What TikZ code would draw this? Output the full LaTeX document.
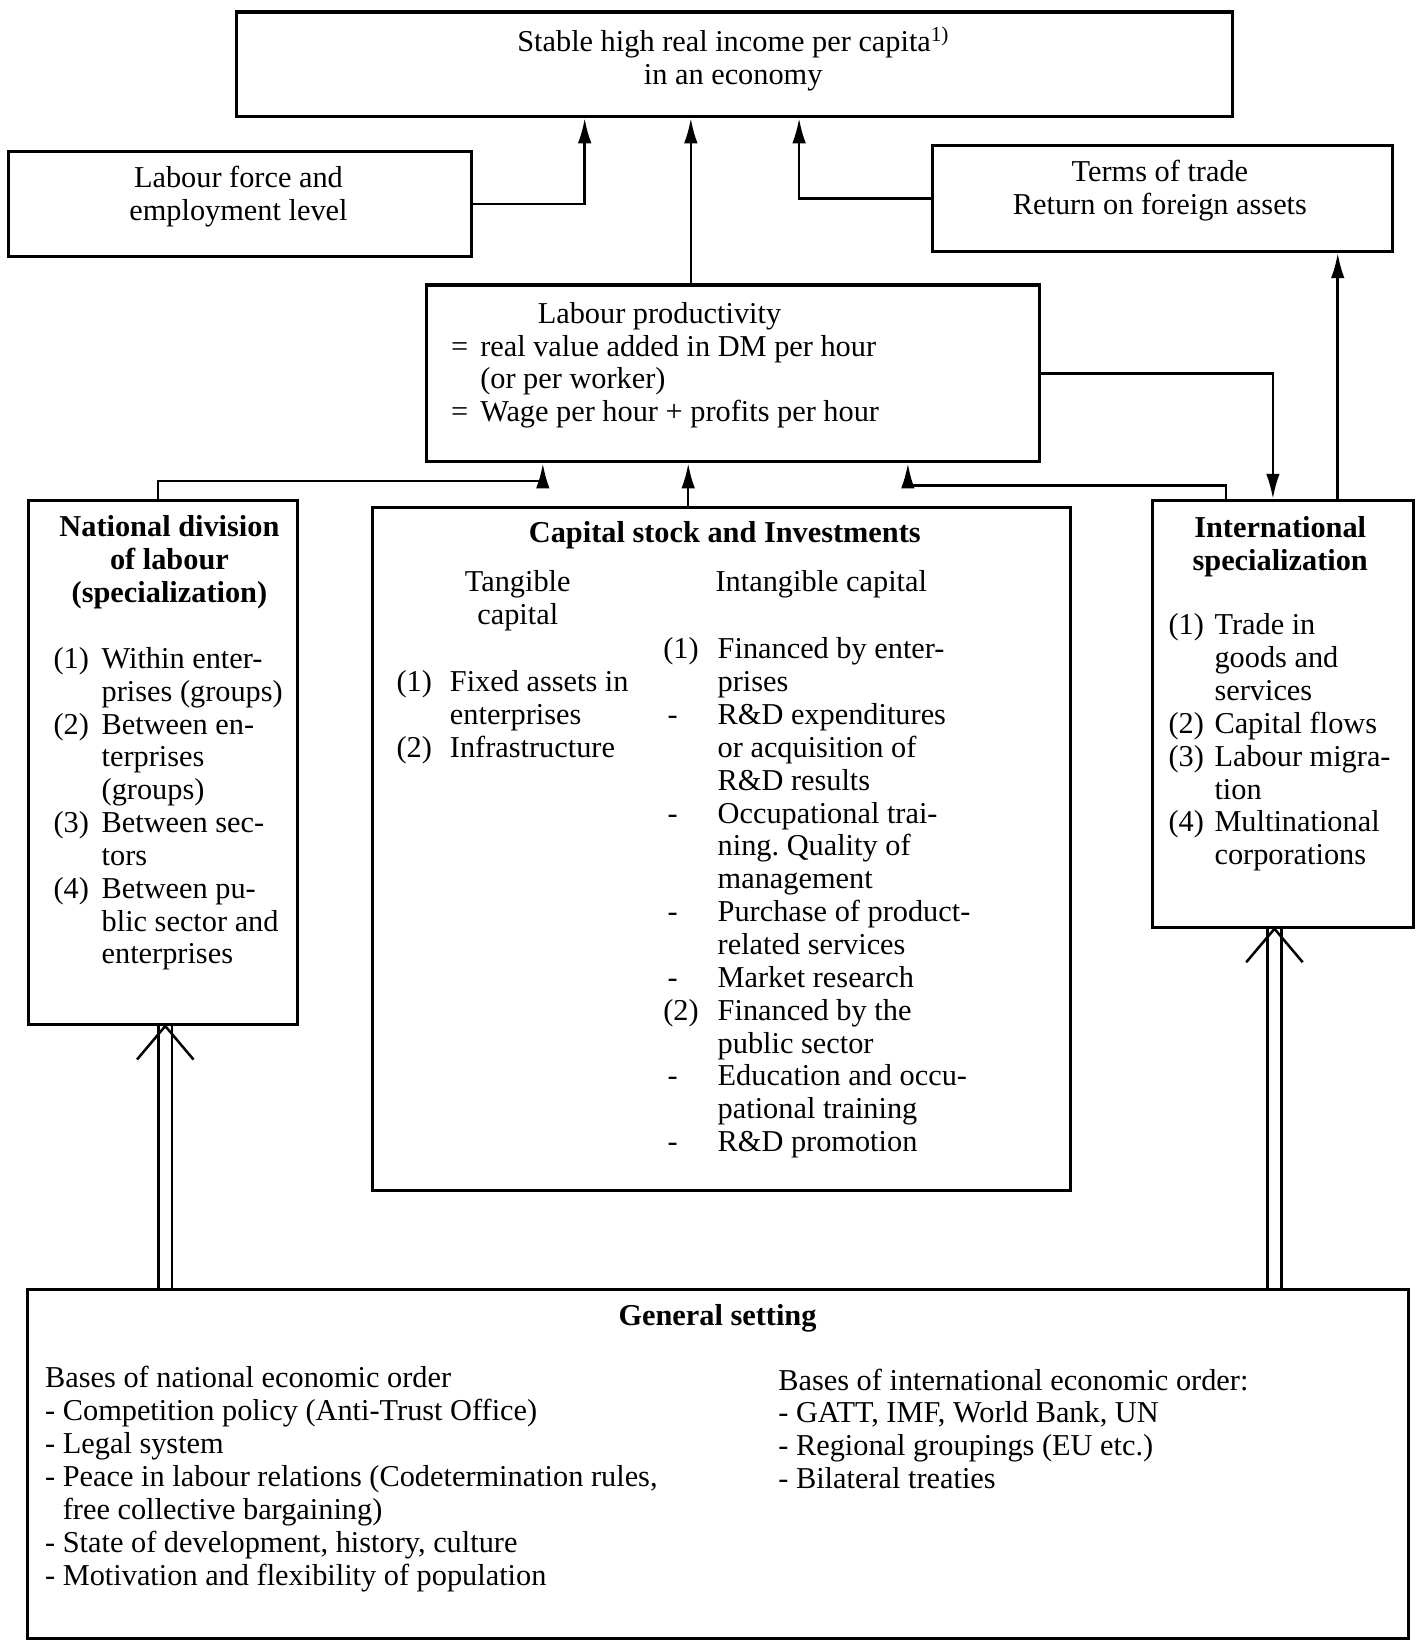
\documentclass[tikz,border=0pt]{standalone}
\usepackage{fontspec}
\setmainfont{Liberation Serif}
\usetikzlibrary{arrows.meta,calc}
\frenchspacing

\begin{document}
\begin{tikzpicture}[x=1pt,y=-1pt,>={Latex[length=24pt,width=13pt]},line width=2.4pt,
 font=\fontsize{29}{31.4}\selectfont,
 box/.style={draw,line width=3pt,inner sep=0pt,anchor=north west},
 txt/.style={inner sep=0pt,anchor=base west},
 mid/.style={inner sep=0pt,anchor=base},
 head/.style={inner sep=0pt,anchor=base,font=\fontsize{29}{31.4}\selectfont\bfseries},
 flow/.style={->},
 base flow/.style={double,double distance=11pt,line width=2.2pt}]
\useasboundingbox (0,0) rectangle (1358,1568);
%income
  \node[box,minimum width=952pt,minimum height=100pt] (income) at (225,10) {};
  \node[mid] at (701,49) {\begin{tabular}[t]{@{}c@{}}Stable high real income per capita\textsuperscript{1)}\\in an economy\end{tabular}};
%labour force
  \node[box,minimum width=442pt,minimum height=101pt] (labour) at (7,143) {};
  \node[mid] at (228,179) {\begin{tabular}[t]{@{}c@{}}Labour force and\\employment level\end{tabular}};
%terms of trade
  \node[box,minimum width=440pt,minimum height=101pt] (terms) at (890,138) {};
  \node[mid] at (1109,174) {\begin{tabular}[t]{@{}c@{}}Terms of trade\\Return on foreign assets\end{tabular}};
%productivity
  \node[box,minimum width=586pt,minimum height=169pt] (prod) at (406,271) {};
  \node[txt] at (430,309) {\begin{tabular}[t]{@{}p{28pt}@{}l@{}}
    &\hspace{55pt}Labour productivity\\
    =&real value added in DM per hour\\
    &(or per worker)\\
    =&Wage per hour + profits per hour\end{tabular}};
%national division
  \node[box,minimum width=257pt,minimum height=501pt] (nat) at (26,477) {};
  \node[head] at (162,513) {\begin{tabular}[t]{@{}c@{}}National division\\of labour\\(specialization)\end{tabular}};
  \node[txt] at (50,639) {\begin{tabular}[t]{@{}p{46pt}@{}l@{}}
    (1)&Within enter-\\&prises (groups)\\
    (2)&Between en-\\&terprises\\&(groups)\\
    (3)&Between sec-\\&tors\\
    (4)&Between pu-\\&blic sector and\\&enterprises\end{tabular}};
%capital
  \node[box,minimum width=667pt,minimum height=653pt] (cap) at (355,484) {};
  \node[head] at (693,519) {Capital stock and Investments};
  \node[mid] at (495,566) {\begin{tabular}[t]{@{}c@{}}Tangible\\capital\end{tabular}};
  \node[txt] at (683,566) {Intangible capital};
  \node[txt] at (378,661) {\begin{tabular}[t]{@{}p{51pt}@{}l@{}}
    (1)&Fixed assets in\\&enterprises\\
    (2)&Infrastructure\end{tabular}};
  \node[txt] at (633,630) {\begin{tabular}[t]{@{}p{52pt}@{}l@{}}
    (1)&Financed by enter-\\&prises\\
    \hspace{4pt}-&R\&D expenditures\\&or acquisition of\\&R\&D results\\
    \hspace{4pt}-&Occupational trai-\\&ning. Quality of\\&management\\
    \hspace{4pt}-&Purchase of product-\\&related services\\
    \hspace{4pt}-&Market research\\
    (2)&Financed by the\\&public sector\\
    \hspace{4pt}-&Education and occu-\\&pational training\\
    \hspace{4pt}-&R\&D promotion\end{tabular}};
%international
  \node[box,minimum width=250pt,minimum height=408pt] (intl) at (1100,477) {};
  \node[head] at (1224,514) {\begin{tabular}[t]{@{}c@{}}International\\specialization\end{tabular}};
  \node[txt] at (1116,607) {\begin{tabular}[t]{@{}p{44pt}@{}l@{}}
    (1)&Trade in\\&goods and\\&services\\
    (2)&Capital flows\\
    (3)&Labour migra-\\&tion\\
    (4)&Multinational\\&corporations\end{tabular}};
%general setting
  \node[box,minimum width=1320pt,minimum height=334pt] (setting) at (25,1231) {};
  \node[head] at (686,1267) {General setting};
  \node[txt] at (42,1327) {\begin{tabular}[t]{@{}l@{}}
    Bases of national economic order\\
    - Competition policy (Anti-Trust Office)\\
    - Legal system\\
    - Peace in labour relations (Codetermination rules,\\
    \phantom{- }free collective bargaining)\\
    - State of development, history, culture\\
    - Motivation and flexibility of population\end{tabular}};
  \node[txt] at (743,1329) {\begin{tabular}[t]{@{}l@{}}
    Bases of international economic order:\\
    - GATT, IMF, World Bank, UN\\
    - Regional groupings (EU etc.)\\
    - Bilateral treaties\end{tabular}};
%paths
  \coordinate (prodout) at ([xshift=-40pt]prod.north);
  \coordinate (capout) at ([xshift=-32pt]cap.north);
  \coordinate (intlup) at ([xshift=179pt]intl.north west);
  \coordinate (natin) at ([xshift=2pt]nat.south);
  \coordinate (intlin) at ([xshift=-8pt]intl.south);
  \draw[flow] (labour.east) -| ([xshift=334pt]income.south west);
  \draw[flow] (terms.west) -| ([xshift=539pt]income.south west);
  \draw[flow] (prodout) -- (prodout |- income.south);
  \draw[flow] (prod.east) -| ([xshift=117pt]intl.north west);
  \draw[flow] (intlup) -- (intlup |- terms.south);
  \draw[flow] ([xshift=125pt]nat.north west) -- ++(0,-17) -| ([xshift=113pt]prod.south west);
  \draw[flow] ([xshift=72pt]intl.north west) -- ++(0,-13) -| ([xshift=462pt]prod.south west);
  \draw[flow] (capout) -- (capout |- prod.south);
%setting arrows
  \draw[base flow] (natin |- setting.north) -- (natin);
  \draw ($(natin)+(-27,32)$) -- (natin) -- ($(natin)+(27,32)$);
  \draw[base flow] (intlin |- setting.north) -- (intlin);
  \draw ($(intlin)+(-27,32)$) -- (intlin) -- ($(intlin)+(27,32)$);
\end{tikzpicture}
\end{document}
